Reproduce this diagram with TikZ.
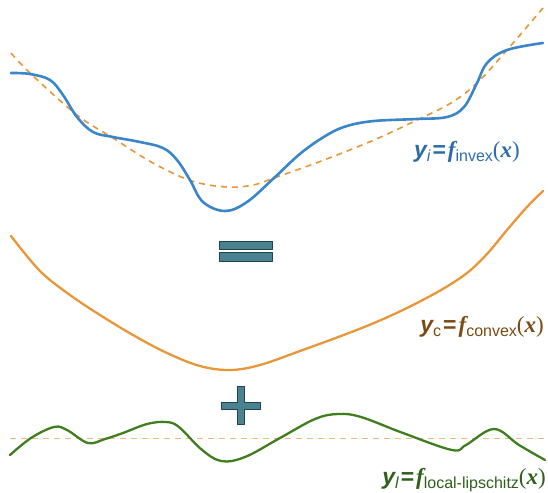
\documentclass[tikz,border=0pt]{standalone}
\usepackage{fontspec}
\setmainfont{Liberation Serif}
\setsansfont{Liberation Sans}
\usetikzlibrary{positioning}
\definecolor{invexblue}{HTML}{3A86C8}
\definecolor{convexorange}{HTML}{E8963A}
\definecolor{lightorange}{HTML}{F7B77C}
\definecolor{lipgreen}{HTML}{3F7D1F}
\definecolor{opteal}{HTML}{4A8290}
\definecolor{opdark}{HTML}{1E4450}
\definecolor{invexlabel}{HTML}{2B6CA8}
\definecolor{convexlabel}{HTML}{7A4B12}
\definecolor{liplabel}{HTML}{2E601A}
\newcommand{\mainsz}{\fontsize{23}{24}\selectfont}
\newcommand{\subsz}{\fontsize{16}{17}\selectfont}
% label: y_#1 = f_#2(x)
\newcommand{\fnlabel}[2]{{\mainsz\sffamily\bfseries\itshape y}\raisebox{-0.42em}{\subsz\sffamily #1}%
  \hspace{2pt}{\mainsz\sffamily\bfseries =}\hspace{2pt}{\mainsz\bfseries\itshape f}\raisebox{-0.42em}{\subsz\sffamily #2}%
  {\mainsz(\textbf{\textit{x}})}}
\tikzset{
  every picture/.style={line join=round, line cap=round},
  curve/.style={line width=2.6pt, smooth, tension=0.6},
  guide/.style={line width=1.6pt, dash pattern=on 6pt off 5pt, line cap=butt},
  opbox/.style={fill=opteal, draw=opdark, line width=0.8pt},
  fnlbl/.style={inner sep=0pt, anchor=base east},
}
\begin{document}
\begin{tikzpicture}[x=1pt,y=-1pt]
\useasboundingbox (0,0) rectangle (548,492);
% invex curve and its convex guide
\draw[guide,convexorange] plot[smooth,tension=0.6] coordinates {(11,53) (30,73) (77,115) (113,138) (153,163) (192,181) (227,187) (253,185) (274,178) (324,160) (374,140) (417,120) (451,103) (477,83) (507,50) (543,8)};
\draw[curve,invexblue] plot coordinates {(11,73) (30,74) (50,80) (63,95) (77,117) (93,132) (113,137) (140,142) (163,148) (177,160) (190,180) (203,202) (225,211) (247,202) (274,178) (301,153) (327,135) (347,126) (374,121) (417,119) (447,117) (464,107) (477,83) (487,63) (507,50) (543,43)};
\node[fnlbl,text=invexlabel] (invexlbl) at (520,157) {\fnlabel{\itshape i}{invex}};
% equals sign
\draw[opbox] (219.3,241) rectangle (272.7,249);
\draw[opbox] (219.3,252.7) rectangle (272.7,261);
% convex curve
\draw[curve,convexorange,line width=2.3pt] plot coordinates {(11,236) (40,271) (70,295) (100,315) (133,335) (167,353) (200,366) (230,370) (260,365) (300,351) (341,336) (374,323) (407,308) (441,290) (467,273) (487,254) (507,230) (527,207) (543,191)};
\node[fnlbl,text=convexlabel] (convexlbl) at (544,332) {\fnlabel{c}{convex}};
% plus sign
\draw[opbox] (237.2,386) -- (244.2,386) -- (244.2,402) -- (260.7,402) -- (260.7,409) -- (244.2,409) -- (244.2,424.5) -- (237.2,424.5) -- (237.2,409) -- (221,409) -- (221,402) -- (237.2,402) -- cycle;
% local-lipschitz curve
\draw[guide,lightorange,line width=1.4pt] (10,438.3) -- (545,438.3);
\draw[curve,lipgreen,line width=2.3pt] plot coordinates {(10,455) (31,438) (54,427) (67,430) (88,443) (105,439) (123,433) (147,424) (166,422) (179,427) (201,449) (221,461) (245,457) (280,438) (315,419) (338,414) (361,417) (403,433) (452,450) (466,445) (494,429) (519,445) (545,460)};
\node[fnlbl,text=liplabel] (liplbl) at (546,484) {\fnlabel{\itshape l}{local-lipschitz}};
\end{tikzpicture}
\end{document}
